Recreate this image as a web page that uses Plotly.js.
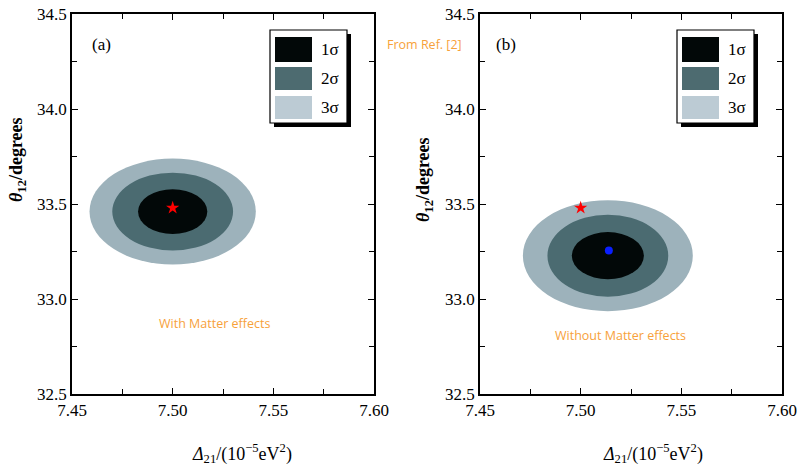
<!DOCTYPE html>
<html><head><meta charset="utf-8">
<script src="https://cdn.plot.ly/plotly-3.0.1.min.js"></script>
<style>html,body{margin:0;padding:0;background:#fff}#chart{width:799px;height:469px}</style>
</head><body><div id="chart"></div>
<script>
// ---- data ----
const xTickVals = [7.45, 7.50, 7.55, 7.60];
const yTickVals = [32.5, 33.0, 33.5, 34.0, 34.5];
const sigmaLabels = ['1σ', '2σ', '3σ'];
// panel (a): with matter effects
const centerA = [7.500, 33.46];
const halfDeltaA = [0.0172, 0.0300, 0.0413];
const halfThetaA = [0.118, 0.205, 0.279];
// panel (b): without matter effects
const centerB = [7.5135, 33.228];
const halfDeltaB = [0.0179, 0.0300, 0.0422];
const halfThetaB = [0.124, 0.216, 0.292];
const refPointX = [7.500];
const refPointY = [33.48];
const fitPointBX = [7.514];
const fitPointBY = [33.255];

// ---- style ----
const W = 799, H = 469;
const fillColors = ['#020808', '#4b6b71', '#9db2bb'];
const legendColors = ['#020808', '#4d6b70', '#bccbd4'];
const orange = '#f7a13a';
const serif = 'Liberation Serif, Times New Roman, serif';
const sans = 'Open Sans, sans-serif';
const px = v => v / W;
const py = v => 1 - v / H;

const traces = [
  {x: refPointX, y: refPointY, xaxis: 'x', yaxis: 'y', mode: 'markers', type: 'scatter',
   marker: {symbol: 'star', size: 10, color: '#ff0000'}, showlegend: false, hoverinfo: 'skip'},
  {x: refPointX, y: refPointY, xaxis: 'x2', yaxis: 'y2', mode: 'markers', type: 'scatter',
   marker: {symbol: 'star', size: 10, color: '#ff0000'}, showlegend: false, hoverinfo: 'skip'},
  {x: fitPointBX, y: fitPointBY, xaxis: 'x2', yaxis: 'y2', mode: 'markers', type: 'scatter',
   marker: {symbol: 'circle', size: 8, color: '#0a1fff'}, showlegend: false, hoverinfo: 'skip'}
];

const shapes = [];
function addEllipses(center, hx, hy, xr, yr) {
  for (let i = hx.length - 1; i >= 0; i--) {
    shapes.push({type: 'circle', xref: xr, yref: yr, layer: 'below',
      x0: center[0] - hx[i], x1: center[0] + hx[i],
      y0: center[1] - hy[i], y1: center[1] + hy[i],
      fillcolor: fillColors[i], line: {width: 0}});
  }
}
addEllipses(centerA, halfDeltaA, halfThetaA, 'x', 'y');
addEllipses(centerB, halfDeltaB, halfThetaB, 'x2', 'y2');

const annotations = [];
function addLegend(dx) {
  shapes.push({type: 'rect', xref: 'paper', yref: 'paper', x0: px(274 + dx), x1: px(351 + dx), y0: py(127), y1: py(34),
    fillcolor: '#000', line: {width: 0}});
  shapes.push({type: 'rect', xref: 'paper', yref: 'paper', x0: px(270 + dx), x1: px(347 + dx), y0: py(123), y1: py(30),
    fillcolor: '#fff', line: {color: '#000', width: 1.2}});
  const rows = [[37, 62], [67, 90], [96, 119]];
  sigmaLabels.forEach((lab, i) => {
    shapes.push({type: 'rect', xref: 'paper', yref: 'paper', x0: px(275 + dx), x1: px(312 + dx),
      y0: py(rows[i][1]), y1: py(rows[i][0]), fillcolor: legendColors[i], line: {width: 0}});
    annotations.push({xref: 'paper', yref: 'paper', x: px(330 + dx), y: py((rows[i][0] + rows[i][1]) / 2),
      text: lab, showarrow: false, xanchor: 'center', yanchor: 'middle',
      font: {family: serif, size: 17, color: '#000'}});
  });
}
addLegend(0);
addLegend(407);

function addText(x, y, text, font, extra) {
  annotations.push(Object.assign({xref: 'paper', yref: 'paper', x: px(x), y: py(y), text: text,
    showarrow: false, xanchor: 'center', yanchor: 'middle', font: font}, extra || {}));
}
addText(101, 45, '(a)', {family: serif, size: 17, color: '#000'});
addText(506, 45, '(b)', {family: serif, size: 17, color: '#000'});
addText(424, 45, 'From Ref. [2]', {family: sans, size: 12.5, color: orange});
addText(214, 323, 'With Matter effects', {family: sans, size: 12.5, color: orange});
addText(620, 335, 'Without Matter effects', {family: sans, size: 12.5, color: orange});
const xTitle = '<i>Δ</i><sub>21</sub>/(10<sup>−5</sup>eV<sup>2</sup>)';
const yTitle = '<b><i>θ</i><sub>12</sub>/degrees</b>';
addText(242, 453, xTitle, {family: serif, size: 18, color: '#000'});
addText(653, 453, xTitle, {family: serif, size: 18, color: '#000'});
addText(18, 160, yTitle, {family: serif, size: 18, color: '#000'}, {textangle: -90});
addText(424, 180, yTitle, {family: serif, size: 18, color: '#000'}, {textangle: -90});

function xAxis(domain, anchor) {
  return {domain: domain, anchor: anchor, range: [7.45, 7.60], tickvals: xTickVals, tickformat: '.2f',
    ticks: 'inside', ticklen: 6, tickwidth: 1.2, tickcolor: '#000', showline: true, linecolor: '#000', linewidth: 1.5,
    mirror: 'ticks', showgrid: false, zeroline: false, fixedrange: true,
    tickfont: {family: serif, size: 17, color: '#000'},
    minor: {dtick: 0.025, tick0: 7.45, ticks: 'inside', ticklen: 5, tickwidth: 1.2, tickcolor: '#000', showgrid: false}};
}
function yAxis(anchor) {
  return {domain: [py(394), py(14)], anchor: anchor, range: [32.5, 34.5], tickvals: yTickVals, tickformat: '.1f',
    ticks: 'inside', ticklen: 6, tickwidth: 1.2, tickcolor: '#000', showline: true, linecolor: '#000', linewidth: 1.5,
    mirror: 'ticks', showgrid: false, zeroline: false, fixedrange: true,
    tickfont: {family: serif, size: 17, color: '#000'},
    minor: {dtick: 0.25, tick0: 32.5, ticks: 'inside', ticklen: 5, tickwidth: 1.2, tickcolor: '#000', showgrid: false}};
}

const layout = {
  width: W, height: H, margin: {l: 0, r: 0, t: 0, b: 0},
  paper_bgcolor: '#fff', plot_bgcolor: '#fff', showlegend: false,
  xaxis: xAxis([px(72), px(374)], 'y'),
  yaxis: yAxis('x'),
  xaxis2: xAxis([px(480), px(782)], 'y2'),
  yaxis2: yAxis('x2'),
  shapes: shapes, annotations: annotations
};
Plotly.newPlot('chart', traces, layout, {displayModeBar: false});
</script></body></html>
